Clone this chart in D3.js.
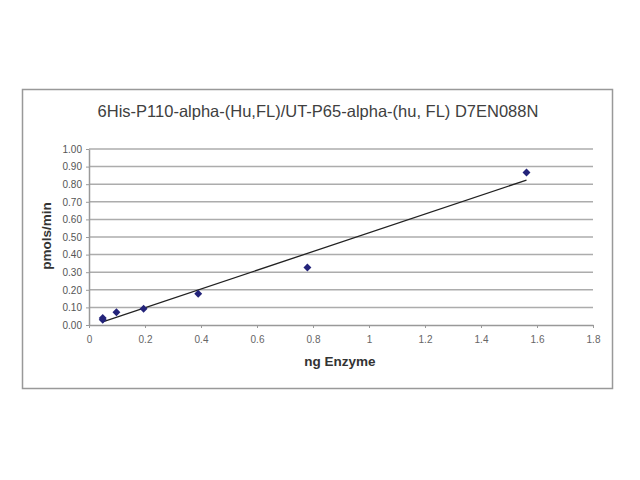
<!DOCTYPE html>
<html>
<head>
<meta charset="utf-8">
<script src="https://cdn.jsdelivr.net/npm/d3@7"></script>
<style>
  body { margin: 0; background: #fff; }
  text { font-family: "Liberation Sans", Arial, sans-serif; }
</style>
</head>
<body>
<div id="chart"></div>
<script>
// enzyme titration: pmols/min against ng enzyme, with a linear trendline

const title = '6His-P110-alpha-(Hu,FL)/UT-P65-alpha-(hu, FL) D7EN088N';
const enzymeNg = [0.049, 0.049, 0.098, 0.195, 0.39, 0.78, 1.5625];
const pmolsPerMin = [0.04, 0.03, 0.072, 0.092, 0.178, 0.327, 0.866];
const xTicks = [0, 0.2, 0.4, 0.6, 0.8, 1, 1.2, 1.4, 1.6, 1.8];
const yTicks = [0, 0.1, 0.2, 0.3, 0.4, 0.5, 0.6, 0.7, 0.8, 0.9, 1.0];

const W = 640, H = 480;
const plot = { left: 89, right: 593, top: 149, bottom: 325 };

// least squares fit, same as the spreadsheet trendline
function linearFit(xs, ys) {
  const n = xs.length;
  const mx = d3.mean(xs), my = d3.mean(ys);
  let sxy = 0, sxx = 0;
  for (let i = 0; i < n; i++) {
    sxy += (xs[i] - mx) * (ys[i] - my);
    sxx += (xs[i] - mx) * (xs[i] - mx);
  }
  const slope = sxy / sxx;
  return { slope, intercept: my - slope * mx };
}

function createChart() {
  const svg = d3.select('#chart').append('svg')
    .attr('width', W)
    .attr('height', H);

  // outer frame
  svg.append('rect')
    .attr('x', 22.5).attr('y', 89.5)
    .attr('width', 590).attr('height', 299)
    .attr('fill', '#fff')
    .attr('stroke', '#999')
    .attr('stroke-width', 1.5);

  const x = d3.scaleLinear().domain([0, 1.8]).range([plot.left, plot.right]);
  const y = d3.scaleLinear().domain([0, 1]).range([plot.bottom, plot.top]);

  // horizontal gridlines
  svg.append('g')
    .selectAll('line')
    .data(yTicks.slice(1))
    .enter()
    .append('line')
    .attr('x1', plot.left).attr('x2', plot.right)
    .attr('y1', d => y(d)).attr('y2', d => y(d))
    .attr('stroke', '#acacac')
    .attr('stroke-width', 1.5);

  const xAxis = svg.append('g')
    .attr('transform', `translate(0,${plot.bottom})`)
    .call(d3.axisBottom(x).tickValues(xTicks).tickSize(3).tickSizeOuter(0)
      .tickFormat(d3.format('~g')));
  xAxis.select('.domain').attr('stroke', '#999').attr('stroke-width', 1.5);
  xAxis.selectAll('.tick line').attr('stroke', '#999');
  xAxis.selectAll('.tick text')
    .attr('y', 11)
    .attr('fill', '#666')
    .style('font-size', '10px');

  const yAxis = svg.append('g')
    .attr('transform', `translate(${plot.left},0)`)
    .call(d3.axisLeft(y).tickValues(yTicks).tickSize(3).tickSizeOuter(0)
      .tickFormat(d3.format('.2f')));
  yAxis.select('.domain').attr('stroke', '#999').attr('stroke-width', 1.5);
  yAxis.selectAll('.tick line').attr('stroke', '#999');
  yAxis.selectAll('.tick text')
    .attr('x', -7)
    .attr('fill', '#555')
    .style('font-size', '10px');

  // trendline over the range of the data
  const fit = linearFit(enzymeNg, pmolsPerMin);
  const ends = d3.extent(enzymeNg);
  svg.append('line')
    .attr('x1', x(ends[0])).attr('y1', y(fit.intercept + fit.slope * ends[0]))
    .attr('x2', x(ends[1])).attr('y2', y(fit.intercept + fit.slope * ends[1]))
    .attr('stroke', '#222')
    .attr('stroke-width', 1.3);

  const points = enzymeNg.map((v, i) => [v, pmolsPerMin[i]]);
  svg.append('g')
    .selectAll('path')
    .data(points)
    .enter()
    .append('path')
    .attr('d', d3.symbol(d3.symbolDiamond2, 40))
    .attr('transform', d => `translate(${x(d[0])},${y(d[1])})`)
    .attr('fill', '#23237a');

  svg.append('text')
    .attr('x', 318).attr('y', 117)
    .attr('text-anchor', 'middle')
    .attr('fill', '#404040')
    .style('font-size', '16.5px')
    .text(title);

  svg.append('text')
    .attr('x', 340).attr('y', 366)
    .attr('text-anchor', 'middle')
    .attr('fill', '#333')
    .style('font-size', '13.5px')
    .style('font-weight', 'bold')
    .text('ng Enzyme');

  svg.append('text')
    .attr('transform', 'translate(51,236) rotate(-90)')
    .attr('text-anchor', 'middle')
    .attr('fill', '#333')
    .style('font-size', '13.5px')
    .style('font-weight', 'bold')
    .text('pmols/min');
}

document.addEventListener('DOMContentLoaded', createChart);
</script>
</body>
</html>
